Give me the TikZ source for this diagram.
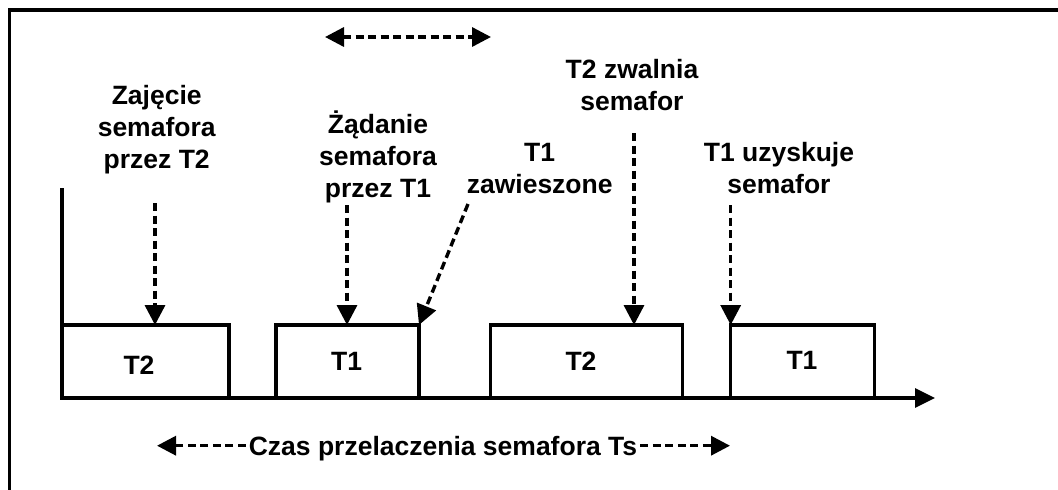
\documentclass[tikz,border=0pt]{standalone}
\usepackage{fontspec}
\setmainfont{Liberation Sans}
\usetikzlibrary{arrows.meta,calc}
\begin{document}
\begin{tikzpicture}[x=1pt,y=-1pt,
  lbl/.style={font=\fontsize{26.5}{32}\selectfont\bfseries, align=center, inner sep=0pt, anchor=base},
  tasklbl/.style={font=\fontsize{26.5}{32}\selectfont\bfseries, inner sep=0pt},
  taskbox/.style={draw, line width=3.2pt, minimum height=73pt, inner sep=0pt, outer sep=0pt},
  solidline/.style={line width=3.2pt},
  dashline/.style={line width=3.4pt, dash pattern=on 8pt off 4.5pt},
  darr/.style={dashline, -{Triangle[length=20pt,width=20pt]}},
  axarr/.style={solidline, -{Triangle[length=20pt,width=19pt]}},
  dblarr/.style={dashline, {Triangle[length=19pt,width=19pt]}-{Triangle[length=19pt,width=19pt]}}
]
\useasboundingbox (0,0) rectangle (1058,490);

% frame
\coordinate (f0) at (9.5,492);
\coordinate (f1) at (9.5,10);
\coordinate (f2) at (1060,10);
\draw[solidline] (f0) -- (f1) -- (f2);

% task boxes
\node[taskbox, minimum width=167pt] (b1) at (145.5,361.5) {};
\node[taskbox, minimum width=143pt] (b2) at (347.5,361.5) {};
\node[taskbox, minimum width=192pt] (b3) at (586.7,361.5) {};
\node[taskbox, minimum width=144pt] (b4) at (802.7,361.5) {};

\node[tasklbl] (t1) at (139,365.5) {T2};
\node[tasklbl] (t2) at (346.7,361.3) {T1};
\node[tasklbl] (t3) at (581,361.7) {T2};
\node[tasklbl] (t4) at (802,360.8) {T1};

% axes
\coordinate (ax0) at (62,188);
\coordinate (ax1) at (62,398);
\coordinate (ax2) at (935,398);
\draw[axarr] (ax0) -- (ax1) -- (ax2);

% labels (base anchor = baseline of last line)
\node[lbl] (L1) at (156.7,168) {Zajęcie\\semafora\\przez T2};
\node[lbl] (L2) at (378,197.5) {Żądanie\\semafora\\przez T1};
\node[lbl] (L3) at (539.7,193.5) {T1\\zawieszone};
\node[lbl] (L4) at (632,110) {T2 zwalnia\\semafor};
\node[lbl] (L5) at (779,193.5) {T1 uzyskuje\\semafor};

% arrows from labels
\coordinate (a1) at (155,203);
\coordinate (a2) at (347,205);
\coordinate (a3) at (468,204);
\coordinate (a4) at (634,133);
\coordinate (a5) at (730.7,205);
\draw[darr] (a1) -- (a1 |- b1.north);
\draw[darr] (a2) -- (a2 |- b2.north);
\draw[darr] (a3) -- (b2.north east);
\draw[darr] (a4) -- (a4 |- b3.north);
\draw[darr] (a5) -- (b4.north west);

% top double arrow
\coordinate (d0) at (325,37);
\coordinate (d1) at (491,37);
\draw[dblarr] (d0) -- (d1);

% bottom switching time
\node[lbl, inner xsep=3pt] (ts) at (443,455) {Czas przelaczenia semafora Ts};
\coordinate (tsl) at (157,445.7);
\coordinate (tsr) at (730,445.7);
\draw[dashline, -{Triangle[length=19pt,width=19pt]}] (ts.west |- tsl) -- (tsl);
\draw[dashline, -{Triangle[length=19pt,width=19pt]}] (ts.east |- tsr) -- (tsr);
\end{tikzpicture}
\end{document}
